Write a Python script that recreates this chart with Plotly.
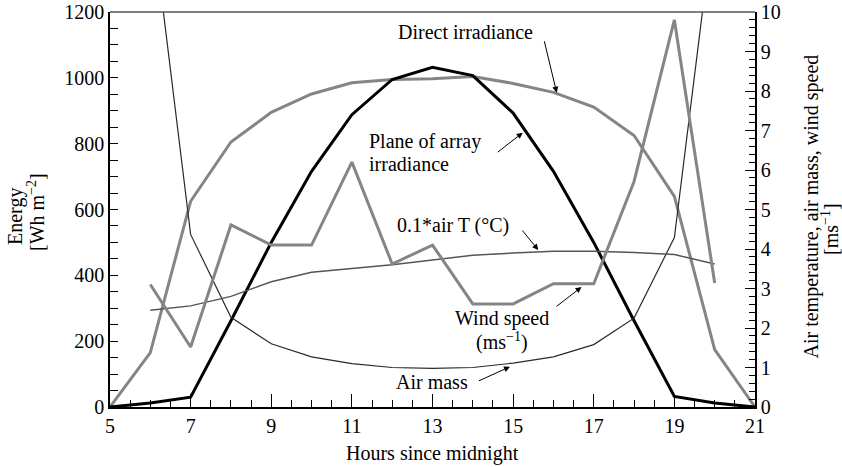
import plotly.graph_objects as go

hours = list(range(5, 22))
direct = [0, 165, 625, 805, 895, 951, 985, 995, 997, 1004, 983, 956, 911, 825, 640, 174, 0]
poa = [0, 12, 30, 262, 500, 716, 888, 995, 1032, 1007, 893, 716, 500, 262, 32, 12, 0]

hours_w = list(range(6, 21))
wind = [3.1, 1.52, 4.61, 4.1, 4.1, 6.2, 3.62, 4.1, 2.61, 2.61, 3.12, 3.12, 5.71, 9.8, 3.14]
air_t = [2.45, 2.56, 2.8, 3.17, 3.41, 3.5, 3.6, 3.72, 3.84, 3.9, 3.94, 3.94, 3.91, 3.86, 3.62]
air_mass = [12.7, 4.37, 2.27, 1.6, 1.27, 1.1, 1.0, 0.98, 1.0, 1.11, 1.27, 1.58, 2.25, 4.29, 12.5]

FONT = "Liberation Serif"
fig = go.Figure()
fig.add_trace(go.Scatter(x=hours_w, y=air_mass, mode="lines", yaxis="y2",
                         line=dict(color="#2a2a2a", width=1.2), showlegend=False))
fig.add_trace(go.Scatter(x=hours_w, y=air_t, mode="lines", yaxis="y2",
                         line=dict(color="#555555", width=1.5), showlegend=False))
fig.add_trace(go.Scatter(x=hours_w, y=wind, mode="lines", yaxis="y2",
                         line=dict(color="#858585", width=3), showlegend=False))
fig.add_trace(go.Scatter(x=hours, y=direct, mode="lines",
                         line=dict(color="#858585", width=3), showlegend=False))
fig.add_trace(go.Scatter(x=hours, y=poa, mode="lines",
                         line=dict(color="#000000", width=3), showlegend=False))

tf = dict(family=FONT, size=20, color="black")

L, R, T, B = 110, 755, 12, 407
W, H = R - L, B - T

def px2paper(px, py):
    return (px - L) / W, (B - py) / H

def txt(x, y, s, xanchor="center"):
    fig.add_annotation(x=x, y=y, xref="x", yref="y", text=s, showarrow=False,
                       font=tf, xanchor=xanchor, yanchor="middle")

def arrow(x, y, ax, ay):
    fig.add_annotation(x=x, y=y, xref="x", yref="y", ax=ax, ay=ay, text=" ",
                       showarrow=True, arrowhead=2, arrowsize=1.2, arrowwidth=1,
                       arrowcolor="black", standoff=0, startstandoff=0,
                       font=dict(family=FONT, size=2))

def hx(px):
    return 5 + (px - L) / (W / 16)

def ey(py):
    return (B - py) / (H / 1200)

txt(hx(465), ey(32), "Direct irradiance")
arrow(hx(556.7), ey(92.7), -13, -54)
txt(hx(366.7), ey(141), "Plane of array", xanchor="left")
txt(hx(366.7), ey(164), "irradiance", xanchor="left")
arrow(hx(522.7), ey(132.7), -27, 21)
txt(hx(453), ey(225), "0.1*air T (°C)")
arrow(hx(538.3), ey(250), -18, -22)
txt(hx(502), ey(318), "Wind speed")
txt(hx(502), ey(341), "(ms<sup>−1</sup>)")
arrow(hx(581.5), ey(287), -27, 21)
txt(hx(432), ey(382), "Air mass")
arrow(hx(510), ey(366.7), -33, 15)

def ptxt(px, py, s, angle=0):
    x, y = px2paper(px, py)
    fig.add_annotation(xref="paper", yref="paper", x=x, y=y, text=s, showarrow=False,
                       textangle=angle, font=tf, xanchor="center", yanchor="middle")

# axis titles
ptxt(15, 216, "Energy", -90)
ptxt(36, 212, "[Wh m<sup>−2</sup>]", -90)
ptxt(811, 206.5, "Air temperature, air mass, wind speed", -90)
ptxt(830, 229, "[ms<sup>−1</sup>]", -90)
ptxt(432, 453, "Hours since midnight")

# top border line
fig.add_shape(type="line", xref="paper", yref="paper", x0=0, x1=1, y0=1, y1=1,
              line=dict(color="#555555", width=1.5))

fig.update_layout(
    width=842, height=467,
    margin=dict(l=L, r=842 - R, t=T, b=467 - B),
    paper_bgcolor="white", plot_bgcolor="white",
    font=tf,
    xaxis=dict(range=[5, 21], tick0=5, dtick=2, ticks="inside", ticklen=13, tickwidth=1,
               tickcolor="black", showline=True, linecolor="black", linewidth=1.5,
               showgrid=False, zeroline=False, tickfont=tf, automargin=False,
               minor=dict(dtick=0.5, tick0=5, ticks="inside", ticklen=7, tickcolor="black",
                          showgrid=False)),
    yaxis=dict(range=[0, 1200], dtick=200, ticks="inside", ticklen=8, tickwidth=1,
               tickcolor="black", showline=True, linecolor="black", linewidth=1.5,
               showgrid=False, zeroline=False, tickfont=tf, automargin=False,
               minor=dict(dtick=50, ticks="inside", ticklen=8, tickcolor="black",
                          showgrid=False)),
    yaxis2=dict(range=[0, 10], dtick=1, overlaying="y", side="right", ticks="inside",
                ticklen=10, tickwidth=1, tickcolor="black", showline=True,
                linecolor="black", linewidth=1.5, showgrid=False, zeroline=False,
                tickfont=tf, automargin=False,
                minor=dict(dtick=0.2, ticks="inside", ticklen=6, tickcolor="black",
                           showgrid=False)),
)

fig.write_html("out.html")
